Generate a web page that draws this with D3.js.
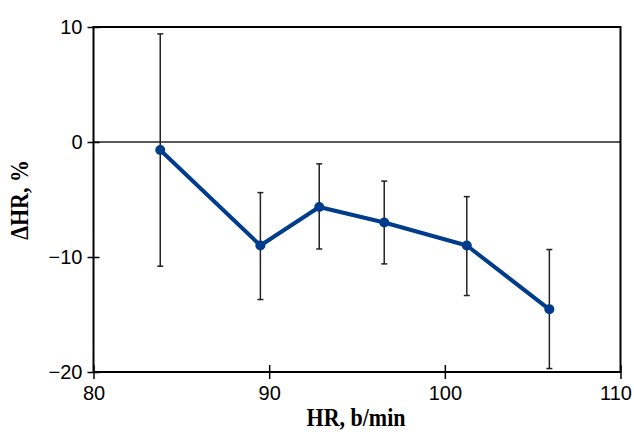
<!DOCTYPE html>
<html>
<head>
<meta charset="utf-8">
<script src="https://cdn.jsdelivr.net/npm/d3@7"></script>
<style>
  body { margin: 0; background: #fff; }
  svg { display: block; }
</style>
</head>
<body>
<div id="chart"></div>
<script>
// Data
const hr      = [83.8, 89.5, 92.85, 96.55, 101.25, 105.95];
const deltaHr = [-0.7, -9.0, -5.65, -7.0, -9.0, -14.55];
const errHigh = [9.4, -4.4, -1.9, -3.4, -4.75, -9.35];
const errLow  = [-10.8, -13.7, -9.3, -10.6, -13.35, -19.7];
const xTicks  = [80, 90, 100, 110];
const yTicks  = [-20, -10, 0, 10];

const W = 634, H = 432;
const margin = { top: 27, right: 13.5, bottom: 60, left: 93.5 };
const width = W - margin.left - margin.right;
const height = H - margin.top - margin.bottom;

const root = d3.select("#chart").append("svg")
    .attr("width", W)
    .attr("height", H);

const svg = root.append("g")
    .attr("transform", `translate(${margin.left},${margin.top})`);

const x = d3.scaleLinear().domain([80, 110]).range([0, width]);
const y = d3.scaleLinear().domain([-20, 10]).range([height, 0]);

const data = hr.map((v, i) => ({ x: v, y: deltaHr[i], hi: errHigh[i], lo: errLow[i] }));

// zero line
svg.append("line")
    .attr("x1", 0).attr("x2", width)
    .attr("y1", y(0)).attr("y2", y(0))
    .attr("stroke", "#222").attr("stroke-width", 1.5);

// error bars
const eb = svg.append("g").attr("stroke", "#222").attr("stroke-width", 1.5);
data.forEach(d => {
  eb.append("line")
    .attr("x1", x(d.x)).attr("x2", x(d.x))
    .attr("y1", y(d.hi)).attr("y2", y(d.lo));
  [d.hi, d.lo].forEach(v => {
    eb.append("line")
      .attr("x1", x(d.x) - 3).attr("x2", x(d.x) + 3)
      .attr("y1", y(v)).attr("y2", y(v));
  });
});

// series line
svg.append("path")
    .datum(data)
    .attr("fill", "none")
    .attr("stroke", "#003c8c")
    .attr("stroke-width", 4)
    .attr("stroke-linejoin", "round")
    .attr("d", d3.line().x(d => x(d.x)).y(d => y(d.y)));

svg.selectAll("circle.pt")
  .data(data)
  .enter().append("circle")
    .attr("class", "pt")
    .attr("cx", d => x(d.x))
    .attr("cy", d => y(d.y))
    .attr("r", 5)
    .attr("fill", "#003c8c");

// frame
svg.append("rect")
    .attr("width", width).attr("height", height)
    .attr("fill", "none")
    .attr("stroke", "#000").attr("stroke-width", 2);

// axes
const fontTick = "'Liberation Sans', Arial, sans-serif";

const gx = svg.append("g")
    .attr("transform", `translate(0,${height})`)
    .call(d3.axisBottom(x).tickValues(xTicks).tickSize(7).tickPadding(7).tickFormat(d3.format("d")));
gx.select(".domain").remove();
gx.selectAll(".tick line").attr("y1", -7).attr("stroke", "#000").attr("stroke-width", 1.5);
gx.selectAll("text").attr("font-size", 20).attr("font-family", fontTick).attr("fill", "#000");
// keep the last label inside the page
gx.selectAll(".tick text").filter(d => d === 110).attr("dx", -5);

const gy = svg.append("g")
    .call(d3.axisLeft(y).tickValues(yTicks).tickSize(6).tickPadding(5).tickFormat(d3.format("d")));
gy.select(".domain").remove();
gy.selectAll(".tick line").attr("x1", 6).attr("stroke", "#000").attr("stroke-width", 1.5);
gy.selectAll("text").attr("font-size", 20).attr("font-family", fontTick).attr("fill", "#000");

// axis titles (slightly tall, like the source)
const fontTitle = "'Liberation Serif', 'Times New Roman', serif";
root.append("text")
    .attr("transform", `translate(${margin.left + x(95) - 1},426) scale(1,1.15)`)
    .attr("text-anchor", "middle")
    .attr("font-family", fontTitle)
    .attr("font-weight", "bold")
    .attr("font-size", 22)
    .text("HR, b/min");

root.append("text")
    .attr("transform", "translate(28,200) rotate(-90) scale(1,1.15)")
    .attr("text-anchor", "middle")
    .attr("font-family", fontTitle)
    .attr("font-weight", "bold")
    .attr("font-size", 22)
    .text("ΔHR, %");
</script>
</body>
</html>
